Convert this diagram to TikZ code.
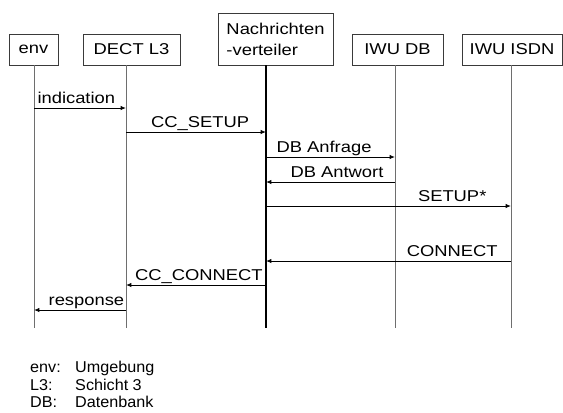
\documentclass[tikz,border=0pt]{standalone}
\usepackage{fontspec}
\setmainfont{Liberation Sans}[FakeStretch=1.17]
\newfontfamily\legendfont{Liberation Sans}[FakeStretch=1.03]
\usepackage{xcolor}
\usepackage{tikz}
\usetikzlibrary{arrows.meta}
\definecolor{MSCFrame}{HTML}{3A3A3A}
\definecolor{MSCLife}{HTML}{6E6E6E}
\definecolor{MSCText}{HTML}{000000}

\begin{document}
\begin{tikzpicture}[x=0.03cm,y=-0.03cm,
  every node/.style={font=\fontsize{13.4}{18}\selectfont,text=MSCText},
  inst/.style={draw=MSCFrame,line width=0.6pt,minimum height=0.93cm,inner sep=0pt},
  life/.style={draw=MSCLife,line width=0.8pt},
  msg/.style={draw=black,line width=0.7pt,-{Latex[length=4.5pt,width=3.6pt]}},
  lbl/.style={anchor=base,yshift=3.6pt,inner sep=0pt},
  leg/.style={anchor=base west,inner sep=0pt,font=\legendfont\fontsize{13.4}{18}\selectfont}]
\path[use as bounding box] (0,0) rectangle (563,412);
\node[inst,minimum width=1.47cm] (env) at (33.5,49.5) {env};
\node[inst,minimum width=2.91cm] (dect) at (131.5,49.5) {DECT L3};
\node[inst,minimum width=3.45cm,minimum height=1.56cm,align=left] (nvt) at (275.5,39) {Nachrichten\\-verteiler};
\node[inst,minimum width=2.73cm] (iwudb) at (397.5,49.5) {IWU DB};
\node[inst,minimum width=3.0cm] (iwuisdn) at (512,49.5) {IWU ISDN};
\coordinate (xenv) at (34,0);
\coordinate (xdect) at (126,0);
\coordinate (xnvt) at (266,0);
\coordinate (xdb) at (395,0);
\coordinate (xisdn) at (511,0);
\coordinate (bot) at (0,328);
\draw[life] (xenv |- env.south) -- (xenv |- bot);
\draw[life] (xdect |- dect.south) -- (xdect |- bot);
\draw[life,draw=black,line width=0.9pt] (xnvt |- nvt.south) -- (xnvt |- bot);
\draw[life] (xdb |- iwudb.south) -- (xdb |- bot);
\draw[life] (xisdn |- iwuisdn.south) -- (xisdn |- bot);
\coordinate (r1) at (0,108);
\coordinate (r2) at (0,132);
\coordinate (r3) at (0,157);
\coordinate (r4) at (0,182);
\coordinate (r5) at (0,206);
\coordinate (r6) at (0,261);
\coordinate (r7) at (0,285);
\coordinate (r8) at (0,310);
\draw[msg] (xenv |- r1) -- node[lbl,pos=0.46] (m1) {indication} (xdect |- r1);
\draw[msg] (xdect |- r2) -- node[lbl,pos=0.53] (m2) {CC\_SETUP} (xnvt |- r2);
\draw[msg] (xnvt |- r3) -- node[lbl,pos=0.45] (m3) {DB Anfrage} (xdb |- r3);
\draw[msg] (xdb |- r4) -- node[lbl,pos=0.45] (m4) {DB Antwort} (xnvt |- r4);
\draw[msg] (xnvt |- r5) -- node[lbl,pos=0.76] (m5) {SETUP*} (xisdn |- r5);
\draw[msg] (xisdn |- r6) -- node[lbl,pos=0.24] (m6) {CONNECT} (xnvt |- r6);
\draw[msg] (xnvt |- r7) -- node[lbl,pos=0.48] (m7) {CC\_CONNECT} (xdect |- r7);
\draw[msg] (xdect |- r8) -- node[lbl,pos=0.43] (m8) {response} (xenv |- r8);
\node[leg] (k1) at (30,372) {env:};
\node[leg] (v1) at (75,372) {Umgebung};
\node[leg] (k2) at (30,390) {L3:};
\node[leg] (v2) at (75,390) {Schicht 3};
\node[leg] (k3) at (30,407) {DB:};
\node[leg] (v3) at (75,407) {Datenbank};
\end{tikzpicture}
\end{document}
